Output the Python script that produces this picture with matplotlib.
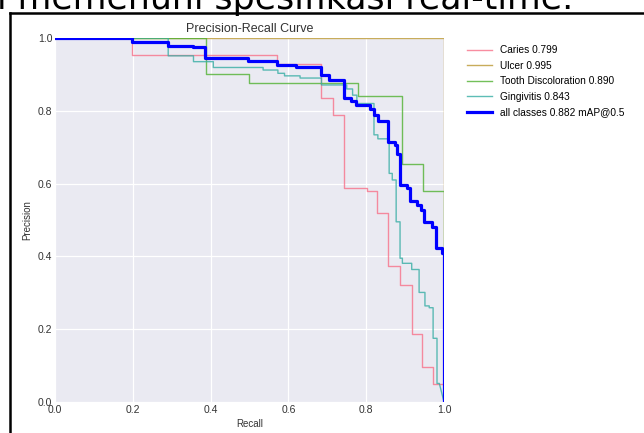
import matplotlib.pyplot as plt
from matplotlib.lines import Line2D
import numpy as np

plt.rcParams['font.family'] = ['Liberation Sans', 'DejaVu Sans']

# Courbes precision-recall (debut de chaque palier, precision du palier)
caries_r = [0.0, 0.198, 0.570, 0.683, 0.715, 0.743, 0.802, 0.828, 0.856, 0.887, 0.917, 0.944, 0.972, 1.0]
caries_p = [1.0, 0.953, 0.928, 0.834, 0.788, 0.587, 0.581, 0.518, 0.374, 0.321, 0.187, 0.095, 0.049, 0.0]

ulcer_r = [0.0, 1.0]
ulcer_p = [1.0, 0.0]

tooth_r = [0.0, 0.388, 0.499, 0.778, 0.891, 0.946, 1.0]
tooth_p = [1.0, 0.901, 0.876, 0.842, 0.654, 0.580, 0.0]

gingi_r = [0.0, 0.291, 0.356, 0.407, 0.535, 0.573, 0.59, 0.63, 0.685, 0.750, 0.765, 0.776,
           0.82, 0.830, 0.859, 0.867, 0.877, 0.887, 0.893, 0.917, 0.936, 0.951, 0.962,
           0.972, 0.982, 0.988]
gingi_p = [1.0, 0.951, 0.935, 0.919, 0.912, 0.903, 0.896, 0.890, 0.871, 0.860, 0.843, 0.820,
           0.734, 0.723, 0.628, 0.610, 0.495, 0.395, 0.381, 0.364, 0.301, 0.264, 0.259,
           0.175, 0.051, 0.051]

all_r = [0.0, 0.198, 0.291, 0.355, 0.386, 0.497, 0.570, 0.62, 0.683, 0.705, 0.743, 0.76,
         0.775, 0.81, 0.82, 0.83, 0.856, 0.874, 0.879, 0.887, 0.905, 0.913, 0.930, 0.940,
         0.948, 0.969, 0.980, 0.995, 1.0]
all_p = [1.0, 0.990, 0.979, 0.974, 0.946, 0.938, 0.925, 0.921, 0.897, 0.884, 0.834, 0.826,
         0.816, 0.805, 0.788, 0.772, 0.713, 0.705, 0.680, 0.596, 0.588, 0.553, 0.541, 0.527,
         0.495, 0.482, 0.422, 0.409, 0.0]

labels = ['Caries 0.799', 'Ulcer 0.995', 'Tooth Discoloration 0.890', 'Gingivitis 0.843']
colors = ['#f77189', '#bb9832', '#50b131', '#36ada4']


def stairs(r, p):
    # escalier : palier horizontal puis chute verticale
    xs, ys = [r[0]], [p[0]]
    for i in range(1, len(r)):
        xs += [r[i], r[i]]
        ys += [p[i - 1], p[i]]
    return xs, ys


fig = plt.figure(figsize=(6.44, 4.33), dpi=100)

# morceau du document autour de la figure (coupe en haut comme sur la capture)
fig.text(-0.004, 1 - 9 / 433, 'i memenuhi spesifikasi real-time.', fontsize=25,
         family='DejaVu Sans', va='baseline', ha='left')
fig.add_artist(Line2D([9.5 / 644, 9.5 / 644], [0, 1 - 13 / 433], color='black', lw=1.8))
fig.add_artist(Line2D([9.5 / 644, 1], [1 - 13 / 433, 1 - 13 / 433], color='black', lw=1.8))

ax = fig.add_axes([55 / 644, 1 - 402 / 433, 389 / 644, 364 / 433])
ax.set_facecolor('#eaeaf2')
for s in ax.spines.values():
    s.set_visible(False)
ax.grid(True, color='white', lw=0.9)
ax.set_axisbelow(True)

curves = [(caries_r, caries_p), (ulcer_r, ulcer_p), (tooth_r, tooth_p)]
for (r, p), lab, c in zip(curves, labels[:3], colors[:3]):
    xs, ys = stairs(r, p)
    ax.plot(xs, ys, color=c, lw=1, alpha=0.8, label=lab)

xs, ys = stairs(gingi_r, gingi_p)
xs.append(1.0)
ys.append(0.0)
ax.plot(xs, ys, color=colors[3], lw=1, alpha=0.8, label=labels[3])

xs, ys = stairs(all_r, all_p)
ax.plot(xs, ys, color='blue', lw=2.3, label='all classes 0.882 mAP@0.5')

ax.set_xlim(0, 1)
ax.set_ylim(0, 1)
ax.set_xticks([0, 0.2, 0.4, 0.6, 0.8, 1.0])
ax.set_yticks([0, 0.2, 0.4, 0.6, 0.8, 1.0])
ax.tick_params(length=0, pad=2, labelsize=7.5, colors='#333333')
ax.set_xlabel('Recall', fontsize=7, color='#333333', labelpad=3)
ax.set_ylabel('Precision', fontsize=7, color='#333333', labelpad=4)
ax.set_title('Precision-Recall Curve', fontsize=9, color='#333333', pad=4)

ax.legend(loc='upper left', bbox_to_anchor=(1.04, 1.0), frameon=False, fontsize=7.3,
          handlelength=2.5, labelspacing=0.55, borderaxespad=0.3)

fig.savefig('out.png', dpi=100)
